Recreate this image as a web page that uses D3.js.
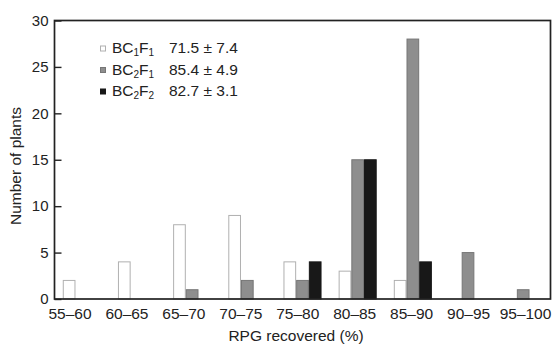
<!DOCTYPE html>
<html><head><meta charset="utf-8">
<script src="https://cdn.jsdelivr.net/npm/d3@7"></script>
<style>body{margin:0;background:#fff}svg{display:block}text{font-family:"Liberation Sans",Arial,sans-serif;fill:#222}</style>
</head><body><svg id="c" width="552" height="344"></svg>
<script>
const categories = ["55–60","60–65","65–70","70–75","75–80","80–85","85–90","90–95","95–100"];
const seriesNames = ["BC1F1","BC2F1","BC2F2"];
const bc1f1 = [2,4,8,9,4,3,2,0,0];
const bc2f1 = [0,0,1,2,2,15,28,5,1];
const bc2f2 = [0,0,0,0,4,15,4,0,0];
const legendStats = ["71.5 ± 7.4","85.4 ± 4.9","82.7 ± 3.1"];
const legendSubs = [["1","1"],["2","1"],["2","2"]];
const yTicks = [0,5,10,15,20,25,30];

const series = [bc1f1, bc2f1, bc2f2];
const fills = ["#ffffff","#8e8e8e","#181818"];
const strokes = ["#b0b0b0","#767676","#181818"];

const svg = d3.select("#c");
const L = 54.5, R = 550.5, T = 20.5, B = 299;

const x = d3.scaleBand().domain(categories).range([L, R]).paddingInner(0.31).paddingOuter(0.15);
const xs = d3.scaleBand().domain(d3.range(3)).range([0, x.bandwidth()]);
const xl = d3.scalePoint().domain(categories).range([69.5, 525]);
const y = d3.scaleLinear().domain([0,30]).range([B, T]);

// bars
series.forEach((vals, si) => {
  svg.append("g").selectAll("rect").data(vals.map((v,i)=>({v, c:categories[i]})).filter(d=>d.v>0))
    .join("rect")
    .attr("x", d => x(d.c) + xs(si) + 0.5)
    .attr("width", xs.bandwidth() - 1)
    .attr("y", d => y(d.v))
    .attr("height", d => y(0) - y(d.v))
    .attr("fill", fills[si]).attr("stroke", strokes[si]).attr("stroke-width", 1);
});

// frame
svg.append("rect").attr("x", L).attr("y", T).attr("width", R-L).attr("height", B-T)
  .attr("fill","none").attr("stroke","#222").attr("stroke-width",1.7);

// y axis
const ya = svg.append("g").attr("transform",`translate(${L},0)`)
  .call(d3.axisLeft(y).tickValues(yTicks).tickSizeInner(-7).tickSizeOuter(0).tickPadding(6));
ya.select(".domain").remove();
ya.selectAll("line").attr("stroke","#222").attr("stroke-width",1.4);
ya.selectAll("text").attr("font-size",15).attr("fill","#222").style("font-family","Liberation Sans, Arial, sans-serif");

// x axis labels
const xa = svg.append("g").attr("transform",`translate(0,${B})`)
  .call(d3.axisBottom(xl).tickSize(0).tickPadding(9));
xa.select(".domain").remove();
xa.selectAll("text").attr("font-size",15.5).attr("fill","#222").style("font-family","Liberation Sans, Arial, sans-serif");

// axis titles
svg.append("text").attr("x", 296).attr("y", 340.5).attr("text-anchor","middle").attr("font-size",15.5).text("RPG recovered (%)");
svg.append("text").attr("transform","translate(21,166) rotate(-90)").attr("text-anchor","middle").attr("font-size",15.5).text("Number of plants");

// legend
const lg = svg.append("g");
seriesNames.forEach((n, i) => {
  const cy = 48.5 + i*21.5;
  lg.append("rect").attr("x", 100.5).attr("y", cy-2.5).attr("width",5).attr("height",5)
    .attr("fill", fills[i]).attr("stroke", strokes[i]).attr("stroke-width",1);
  const t = lg.append("text").attr("x", 112).attr("y", cy+4.5).attr("font-size",15.5);
  t.append("tspan").text("BC");
  t.append("tspan").attr("font-size",10).attr("dy",3).text(legendSubs[i][0]);
  t.append("tspan").attr("dy",-3).text("F");
  t.append("tspan").attr("font-size",10).attr("dy",3).text(legendSubs[i][1]);
  lg.append("text").attr("x", 169).attr("y", cy+4.5).attr("font-size",15.5).text(legendStats[i]);
});
</script></body></html>
